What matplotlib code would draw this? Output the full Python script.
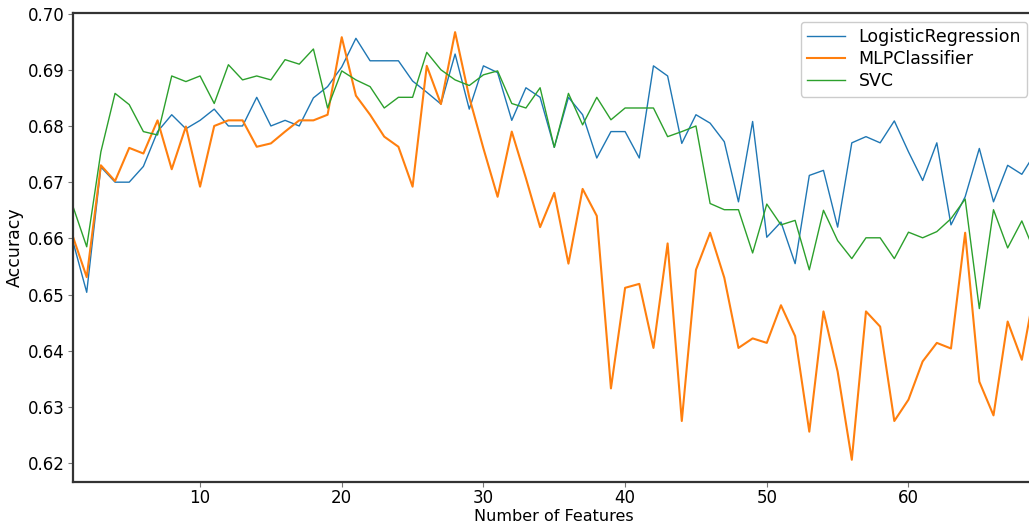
import matplotlib
matplotlib.use("Agg")
import matplotlib.pyplot as plt
from matplotlib.ticker import FormatStrFormatter

# number of features used (x axis)
n_features = list(range(1, 70))

logistic_regression = [
    0.6597, 0.6504, 0.6727, 0.6700, 0.6700, 0.6728, 0.6790, 0.6820, 0.6795, 0.6810,
    0.6830, 0.6800, 0.6800, 0.6851, 0.6800, 0.6810, 0.6800, 0.6850, 0.6870, 0.6905,
    0.6956, 0.6916, 0.6916, 0.6916, 0.6880, 0.6860, 0.6839, 0.6928, 0.6830, 0.6907,
    0.6895, 0.6810, 0.6868, 0.6851, 0.6762, 0.6851, 0.6820, 0.6743, 0.6790, 0.6790,
    0.6743, 0.6907, 0.6889, 0.6769, 0.6820, 0.6805, 0.6772, 0.6665, 0.6808, 0.6602,
    0.6629, 0.6555, 0.6712, 0.6721, 0.6620, 0.6770, 0.6781, 0.6770, 0.6809, 0.6754,
    0.6703, 0.6770, 0.6624, 0.6674, 0.6760, 0.6665, 0.6730, 0.6714, 0.6754,
]

mlp_classifier = [
    0.6605, 0.6531, 0.6730, 0.6702, 0.6761, 0.6751, 0.6810, 0.6723, 0.6799, 0.6692,
    0.6800, 0.6810, 0.6810, 0.6763, 0.6769, 0.6790, 0.6810, 0.6810, 0.6820, 0.6958,
    0.6854, 0.6820, 0.6781, 0.6763, 0.6692, 0.6907, 0.6839, 0.6967, 0.6851, 0.6760,
    0.6674, 0.6790, 0.6707, 0.6620, 0.6681, 0.6555, 0.6688, 0.6640, 0.6333, 0.6512,
    0.6519, 0.6405, 0.6591, 0.6275, 0.6544, 0.6610, 0.6530, 0.6405, 0.6422, 0.6414,
    0.6481, 0.6426, 0.6256, 0.6470, 0.6363, 0.6206, 0.6470, 0.6443, 0.6275, 0.6313,
    0.6381, 0.6414, 0.6404, 0.6610, 0.6345, 0.6285, 0.6452, 0.6384, 0.6520,
]

svc = [
    0.6659, 0.6585, 0.6754, 0.6858, 0.6838, 0.6790, 0.6784, 0.6889, 0.6879, 0.6889,
    0.6840, 0.6909, 0.6882, 0.6889, 0.6882, 0.6918, 0.6910, 0.6937, 0.6832, 0.6898,
    0.6882, 0.6870, 0.6832, 0.6851, 0.6851, 0.6931, 0.6900, 0.6882, 0.6872, 0.6891,
    0.6898, 0.6840, 0.6832, 0.6868, 0.6762, 0.6858, 0.6802, 0.6851, 0.6811, 0.6832,
    0.6832, 0.6832, 0.6781, 0.6790, 0.6800, 0.6662, 0.6651, 0.6651, 0.6574, 0.6661,
    0.6624, 0.6632, 0.6544, 0.6650, 0.6596, 0.6564, 0.6601, 0.6601, 0.6564, 0.6611,
    0.6601, 0.6612, 0.6635, 0.6670, 0.6475, 0.6651, 0.6583, 0.6631, 0.6570,
]

fig = plt.figure(figsize=(10.29, 5.25), dpi=100)
ax = fig.add_axes([0.0705, 0.0825, 0.9363, 0.8927])

ax.plot(n_features, logistic_regression, color="#1f77b4", lw=1.0, label="LogisticRegression")
ax.plot(n_features, mlp_classifier, color="#ff7f0e", lw=1.5, label="MLPClassifier")
ax.plot(n_features, svc, color="#2ca02c", lw=1.0, label="SVC")

ax.set_xlim(1, 69)
ax.set_ylim(0.6167, 0.7001)
ax.set_xticks([10, 20, 30, 40, 50, 60])
ax.set_yticks([0.62, 0.63, 0.64, 0.65, 0.66, 0.67, 0.68, 0.69, 0.70])
ax.yaxis.set_major_formatter(FormatStrFormatter("%.2f"))
ax.tick_params(labelsize=12, color="#777777", length=3.5, pad=2)

for side in ["left", "top", "bottom", "right"]:
    ax.spines[side].set_color("#333333")
    ax.spines[side].set_linewidth(1.6)

ax.set_xlabel("Number of Features", fontsize=11.5, labelpad=1)
ax.set_ylabel("Accuracy", fontsize=12.5, labelpad=3)
ax.legend(loc="upper right", fontsize=12.5, framealpha=1, handlelength=2.2,
          labelspacing=0.25, borderpad=0.35)

fig.savefig("out.png", dpi=100)
